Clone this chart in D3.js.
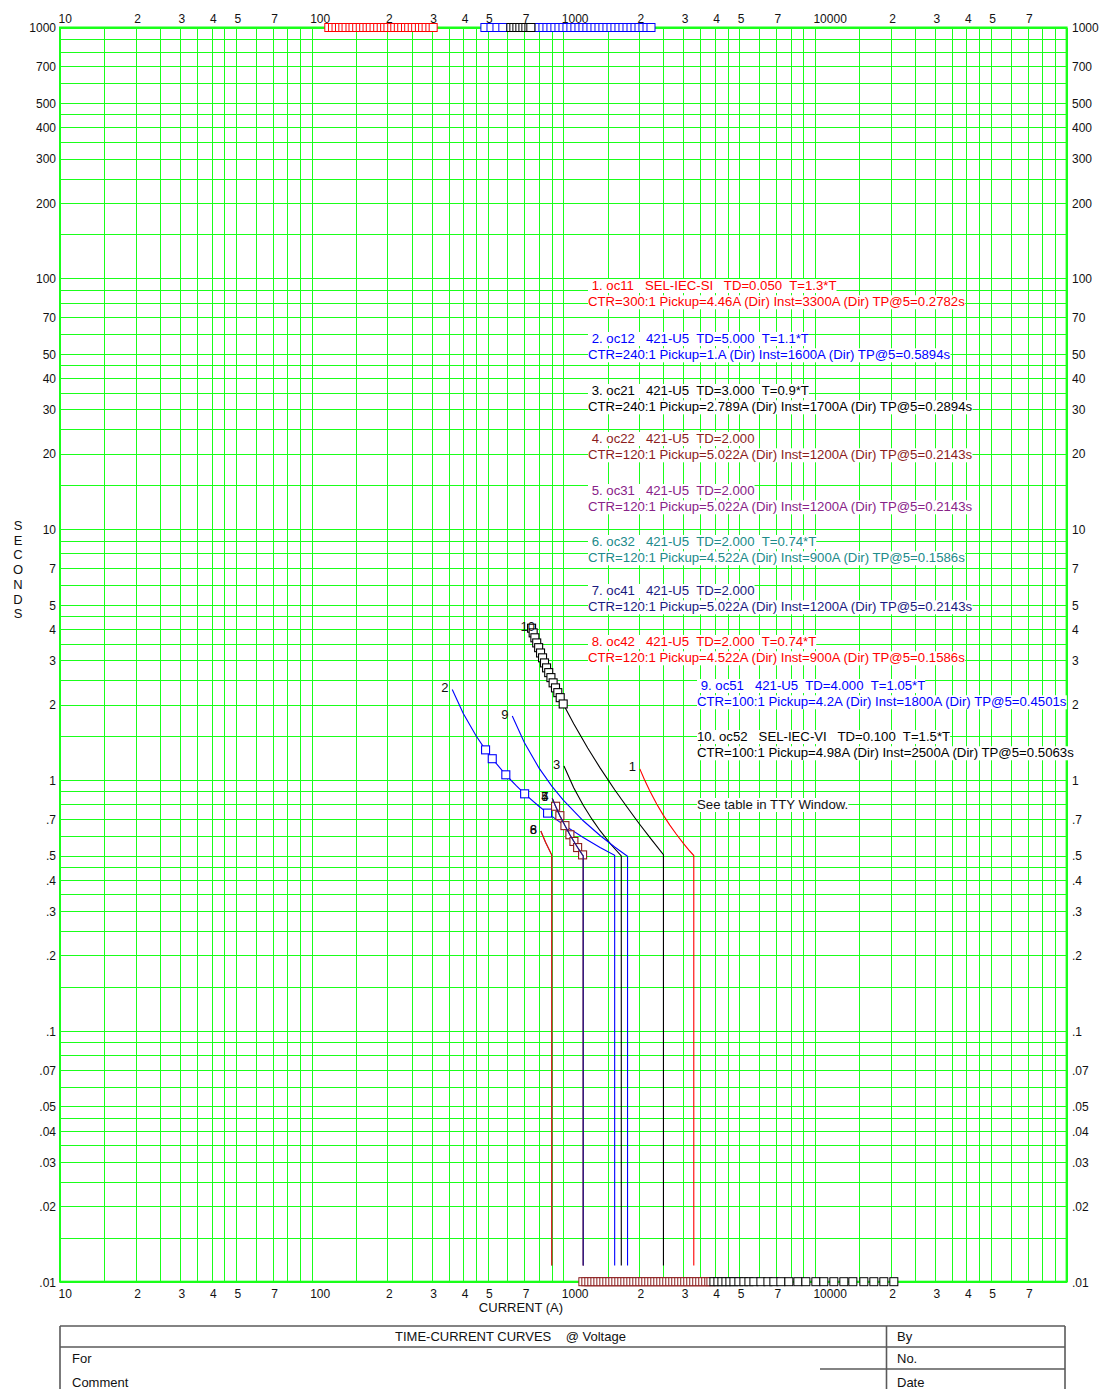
<!DOCTYPE html>
<html>
<head>
<meta charset="utf-8">
<script src="https://cdn.jsdelivr.net/npm/d3@7"></script>
<style>
  body { margin: 0; background: #fff; }
  svg text { font-family: "Liberation Sans", Arial, Helvetica, sans-serif; white-space: pre; }
</style>
</head>
<body>
<svg id="chart" width="1101" height="1389"></svg>
<script>
// ---------- axis ticks ----------
const xTickValues = [10,20,30,40,50,70,100,200,300,400,500,700,1000,2000,3000,4000,5000,7000,10000,20000,30000,40000,50000,70000];
const xTickLabels = ["10","2","3","4","5","7","100","2","3","4","5","7","1000","2","3","4","5","7","10000","2","3","4","5","7"];
const yTickValues = [1000,700,500,400,300,200,100,70,50,40,30,20,10,7,5,4,3,2,1,0.7,0.5,0.4,0.3,0.2,0.1,0.07,0.05,0.04,0.03,0.02,0.01];
const yTickLabels = ["1000","700","500","400","300","200","100","70","50","40","30","20","10","7","5","4","3","2","1",".7",".5",".4",".3",".2",".1",".07",".05",".04",".03",".02",".01"];
const gridMultipliers = [1,1.5,2,2.5,3,3.5,4,4.5,5,6,7,8,9];

// ---------- device settings (legend) ----------
const curveNumbers = ["1","2","3","4","5","6","7","8","9","10"];
const curveTitles = [
  " 1. oc11   SEL-IEC-SI   TD=0.050  T=1.3*T",
  " 2. oc12   421-U5  TD=5.000  T=1.1*T",
  " 3. oc21   421-U5  TD=3.000  T=0.9*T",
  " 4. oc22   421-U5  TD=2.000",
  " 5. oc31   421-U5  TD=2.000",
  " 6. oc32   421-U5  TD=2.000  T=0.74*T",
  " 7. oc41   421-U5  TD=2.000",
  " 8. oc42   421-U5  TD=2.000  T=0.74*T",
  " 9. oc51   421-U5  TD=4.000  T=1.05*T",
  "10. oc52   SEL-IEC-VI   TD=0.100  T=1.5*T"
];
const curveSettings = [
  "CTR=300:1 Pickup=4.46A (Dir) Inst=3300A (Dir) TP@5=0.2782s",
  "CTR=240:1 Pickup=1.A (Dir) Inst=1600A (Dir) TP@5=0.5894s",
  "CTR=240:1 Pickup=2.789A (Dir) Inst=1700A (Dir) TP@5=0.2894s",
  "CTR=120:1 Pickup=5.022A (Dir) Inst=1200A (Dir) TP@5=0.2143s",
  "CTR=120:1 Pickup=5.022A (Dir) Inst=1200A (Dir) TP@5=0.2143s",
  "CTR=120:1 Pickup=4.522A (Dir) Inst=900A (Dir) TP@5=0.1586s",
  "CTR=120:1 Pickup=5.022A (Dir) Inst=1200A (Dir) TP@5=0.2143s",
  "CTR=120:1 Pickup=4.522A (Dir) Inst=900A (Dir) TP@5=0.1586s",
  "CTR=100:1 Pickup=4.2A (Dir) Inst=1800A (Dir) TP@5=0.4501s",
  "CTR=100:1 Pickup=4.98A (Dir) Inst=2500A (Dir) TP@5=0.5063s"
];

// ---------- time-current curves: [current A, time s] ----------
const curve1 = [[2014,1.108],[2100,1.005],[2200,0.911],[2350,0.803],[2500,0.723],[2650,0.661],[2800,0.612],[3000,0.559],[3150,0.527],[3300,0.500],[3300,0.0116]];
const curve2 = [[362,2.294],[400,1.846],[450,1.501],[491,1.319],[522,1.216],[591,1.049],[650,0.949],[702,0.881],[800,0.786],[866,0.738],[1000,0.664],[1200,0.590],[1400,0.538],[1600,0.501],[1600,0.0116]];
const curve3 = [[1006,1.137],[1100,0.932],[1200,0.793],[1300,0.698],[1400,0.628],[1550,0.552],[1700,0.498],[1700,0.0116]];
const curve4 = [[904,0.845],[932,0.786],[969,0.721],[1015,0.658],[1062,0.605],[1102,0.569],[1140,0.538],[1200,0.498],[1200,0.0116]];
const curve5 = [[904,0.845],[932,0.786],[969,0.721],[1015,0.658],[1062,0.605],[1102,0.569],[1140,0.538],[1200,0.498],[1200,0.0116]];
const curve6 = [[814,0.626],[850,0.565],[900,0.502],[900,0.0116]];
const curve7 = [[904,0.845],[932,0.786],[969,0.721],[1015,0.658],[1062,0.605],[1102,0.569],[1140,0.538],[1200,0.498],[1200,0.0116]];
const curve8 = [[814,0.626],[850,0.565],[900,0.502],[900,0.0116]];
const curve9 = [[627,1.799],[700,1.410],[800,1.118],[900,0.946],[1000,0.832],[1200,0.688],[1400,0.601],[1600,0.541],[1800,0.497],[1800,0.0116]];
const curve10 = [[748,4.03],[759,3.86],[771,3.69],[784,3.52],[798,3.37],[812,3.21],[827,3.07],[842,2.93],[858,2.80],[875,2.68],[893,2.56],[911,2.44],[931,2.33],[951,2.23],[972,2.13],[999,2.01],[1100,1.675],[1250,1.341],[1400,1.118],[1600,0.915],[1800,0.775],[2000,0.671],[2250,0.576],[2500,0.504],[2500,0.0116]];

// ---------- point markers on curves ----------
const curve2Marks = [[491,1.319],[522,1.216],[591,1.049],[702,0.881],[866,0.738]];
const curve4Marks = [[932,0.786],[969,0.721],[1015,0.658],[1062,0.605],[1102,0.569],[1140,0.538],[1193,0.503]];
const curve10Marks = [[748,4.03],[759,3.86],[771,3.69],[784,3.52],[798,3.37],[812,3.21],[827,3.07],[842,2.93],[858,2.80],[875,2.68],[893,2.56],[911,2.44],[931,2.33],[951,2.23],[972,2.13],[999,2.01]];

// ---------- off-scale markers (clamped at 1000 s and 0.01 s) ----------
const topRedMarks = [117,121,125,129,133,137,142,146,151,156,161,166,171,177,183,189,195,201,208,214,221,228,236,243,251,259,268,276,285,295,304];
const topBlueMarks = [488,516,545,575,800,830,861,893,926,961,997,1034,1072,1112,1154,1197,1241,1288,1336,1386,1437,1491,1547,1604,1664,1726,1791,1858,1927,1999,2073,2151,2231];
const topBlackMarks = [619,636,654,672,691,710,730,743];
const bottomDarkRedMarks = [1196,1229,1263,1298,1335,1372,1410,1449,1489,1531,1573,1617,1662,1708,1756,1805,1855,1906,1959,2014,2070,2127,2186,2247,2310,2374,2440,2508,2577,2649,2723,2798,2876,2956,3038,3123,3210,3299,3390,3485,3582,3681,3784,3860];
const bottomBlackMarks = [3967,4115,4268,4428,4592,4764,4985,5219,5465,5720,6098,6502,6867,7320,7876,8553,9202,10083,10847,11887,13026,14145,15643,17140,18780,20582];

// ---------- styling ----------
const curveColors = ["#ff0000","#0000ff","#000000","#8b1c1c","#882288","#208a8a","#1a1a80","#ff0000","#0000ff","#000000"];
const curves = [curve1,curve2,curve3,curve4,curve5,curve6,curve7,curve8,curve9,curve10];

const svg = d3.select("#chart");
svg.append("rect").attr("width",1101).attr("height",1389).attr("fill","#fff");

const plotL = 60, plotR = 1066.6, plotT = 27.5, plotB = 1281.7;
const x = d3.scaleLog().domain([10,100000]).range([plotL,plotR]);
const y = d3.scaleLog().domain([0.01,1000]).range([plotB,plotT]);

// grid
const xGrid = [];
[10,100,1000,10000].forEach(d => gridMultipliers.forEach(m => xGrid.push(d*m)));
xGrid.push(100000);
const yGrid = [];
[0.01,0.1,1,10,100].forEach(d => gridMultipliers.forEach(m => yGrid.push(d*m)));
yGrid.push(1000);

const grid = svg.append("g").attr("stroke","#1aff1a").attr("stroke-width",1).attr("shape-rendering","crispEdges");
grid.selectAll("line.v").data(xGrid).join("line")
  .attr("x1",d=>Math.round(x(d))+0.5).attr("x2",d=>Math.round(x(d))+0.5)
  .attr("y1",plotT).attr("y2",plotB);
grid.selectAll("line.h").data(yGrid).join("line")
  .attr("y1",d=>Math.round(y(d))+0.5).attr("y2",d=>Math.round(y(d))+0.5)
  .attr("x1",plotL).attr("x2",plotR);
// frame
svg.append("rect").attr("x",plotL).attr("y",plotT).attr("width",plotR-plotL).attr("height",plotB-plotT)
  .attr("fill","none").attr("stroke","#1aff1a").attr("stroke-width",2);

// axes (labels only)
function styleAxis(g){
  g.select(".domain").remove();
  g.selectAll(".tick line").remove();
  g.selectAll("text").attr("fill","#111").attr("font-size","12px")
    .attr("font-family","'Liberation Sans', Arial, sans-serif");
}
const fmtX = (d,i) => xTickLabels[i];
const fmtY = (d,i) => yTickLabels[i];

svg.append("g").attr("transform","translate(0,23)")
  .call(d3.axisTop(x).tickValues(xTickValues).tickFormat(fmtX).tickSize(0).tickPadding(0))
  .call(styleAxis)
  .call(g=>g.selectAll("text").attr("text-anchor","start").attr("dx",-2).attr("dy",0).attr("y",0));
svg.append("g").attr("transform","translate(0,1298)")
  .call(d3.axisBottom(x).tickValues(xTickValues).tickFormat(fmtX).tickSize(0).tickPadding(0))
  .call(styleAxis)
  .call(g=>g.selectAll("text").attr("text-anchor","start").attr("dx",-2).attr("dy",0).attr("y",0));
svg.append("g").attr("transform","translate(56,0)")
  .call(d3.axisLeft(y).tickValues(yTickValues).tickFormat(fmtY).tickSize(0).tickPadding(0))
  .call(styleAxis)
  .call(g=>g.selectAll("text").attr("dy","0.36em"));
svg.append("g").attr("transform","translate(1072,0)")
  .call(d3.axisRight(y).tickValues(yTickValues).tickFormat(fmtY).tickSize(0).tickPadding(0))
  .call(styleAxis)
  .call(g=>g.selectAll("text").attr("dy","0.36em"));

// axis titles
svg.append("text").attr("x",521).attr("y",1312).attr("text-anchor","middle")
  .attr("font-size","13px").attr("fill","#111").text("CURRENT (A)");
const secG = svg.append("g");
"SECONDS".split("").forEach((c,i)=>{
  secG.append("text").attr("x",18).attr("y",530+i*14.7).attr("text-anchor","middle")
    .attr("font-size","13px").attr("fill","#111").text(c);
});

// legend with white backing
const legendLine1Y = [290,343,395,443,495,546,595,646,690,741];
const legG = svg.append("g");
function boxedText(parent, tx, ty, str, color){
  const g = parent.append("g");
  const r = g.append("rect").attr("fill","#fff");
  const t = g.append("text").attr("x",tx).attr("y",ty).attr("font-size","13.2px").attr("fill",color).text(str);
  const b = t.node().getBBox();
  r.attr("x",b.x).attr("y",b.y+1).attr("width",b.width).attr("height",b.height-1);
}
curveTitles.forEach((s,i)=>{
  const lx = i < 8 ? 588 : 697;
  boxedText(legG, lx, legendLine1Y[i], s, curveColors[i]);
  boxedText(legG, lx, legendLine1Y[i]+16.3, curveSettings[i], curveColors[i]);
});
boxedText(legG, 697, 809, "See table in TTY Window.", "#111");

// off-scale marker rows
function markRow(vals, t, color){
  svg.append("g").selectAll("rect").data(vals).join("rect")
    .attr("x",d=>x(d)-4).attr("y",y(t)-4).attr("width",8).attr("height",8)
    .attr("fill","#fff").attr("stroke",color).attr("stroke-width",1);
}
markRow(topRedMarks, 1000, "#ff0000");
markRow(topBlueMarks, 1000, "#0000ff");
markRow(topBlackMarks, 1000, "#000000");
markRow(bottomDarkRedMarks, 0.01, "#8b1c1c");
markRow(bottomBlackMarks, 0.01, "#000000");

// curves
const line = d3.line().x(d=>x(d[0])).y(d=>y(d[1]));
const curveG = svg.append("g");
function marks(pts, color){
  curveG.append("g").selectAll("rect").data(pts).join("rect")
    .attr("x",d=>x(d[0])-4).attr("y",d=>y(d[1])-4).attr("width",8).attr("height",8)
    .attr("fill","#fff").attr("stroke",color).attr("stroke-width",1.1);
}
curves.forEach((pts,i)=>{
  curveG.append("path").attr("d",line(pts)).attr("fill","none")
    .attr("stroke",curveColors[i]).attr("stroke-width",1.1);
  if (i===1) marks(curve2Marks, curveColors[1]);
  if (i===3) marks(curve4Marks, curveColors[3]);
  if (i===9) marks(curve10Marks, "#000");
});
// curve number labels at each curve start
curves.forEach((pts,i)=>{
  curveG.append("text").attr("x",x(pts[0][0])-11).attr("y",y(pts[0][1])+2.5)
    .attr("font-size","13px").attr("fill","#111").text(curveNumbers[i]);
});

// title block
const tb = svg.append("g").attr("stroke","#5a5a5a").attr("stroke-width",1.6).attr("fill","none");
tb.append("line").attr("x1",60).attr("x2",1065).attr("y1",1326).attr("y2",1326);
tb.append("line").attr("x1",60).attr("x2",1065).attr("y1",1347).attr("y2",1347);
tb.append("line").attr("x1",820).attr("x2",1065).attr("y1",1369).attr("y2",1369);
tb.append("line").attr("x1",60).attr("x2",60).attr("y1",1326).attr("y2",1389);
tb.append("line").attr("x1",1065).attr("x2",1065).attr("y1",1326).attr("y2",1389);
tb.append("line").attr("x1",886.5).attr("x2",886.5).attr("y1",1326).attr("y2",1389);
const tbText = [
  ["TIME-CURRENT CURVES    @ Voltage", 395, 1341],
  ["For", 72, 1363], ["Comment", 72, 1386.5],
  ["By", 897, 1341], ["No.", 897, 1363], ["Date", 897, 1386.5]
];
svg.append("g").selectAll("text").data(tbText).join("text")
  .attr("x",d=>d[1]).attr("y",d=>d[2]).attr("font-size","13px").attr("fill","#111").text(d=>d[0]);
</script>
</body>
</html>
